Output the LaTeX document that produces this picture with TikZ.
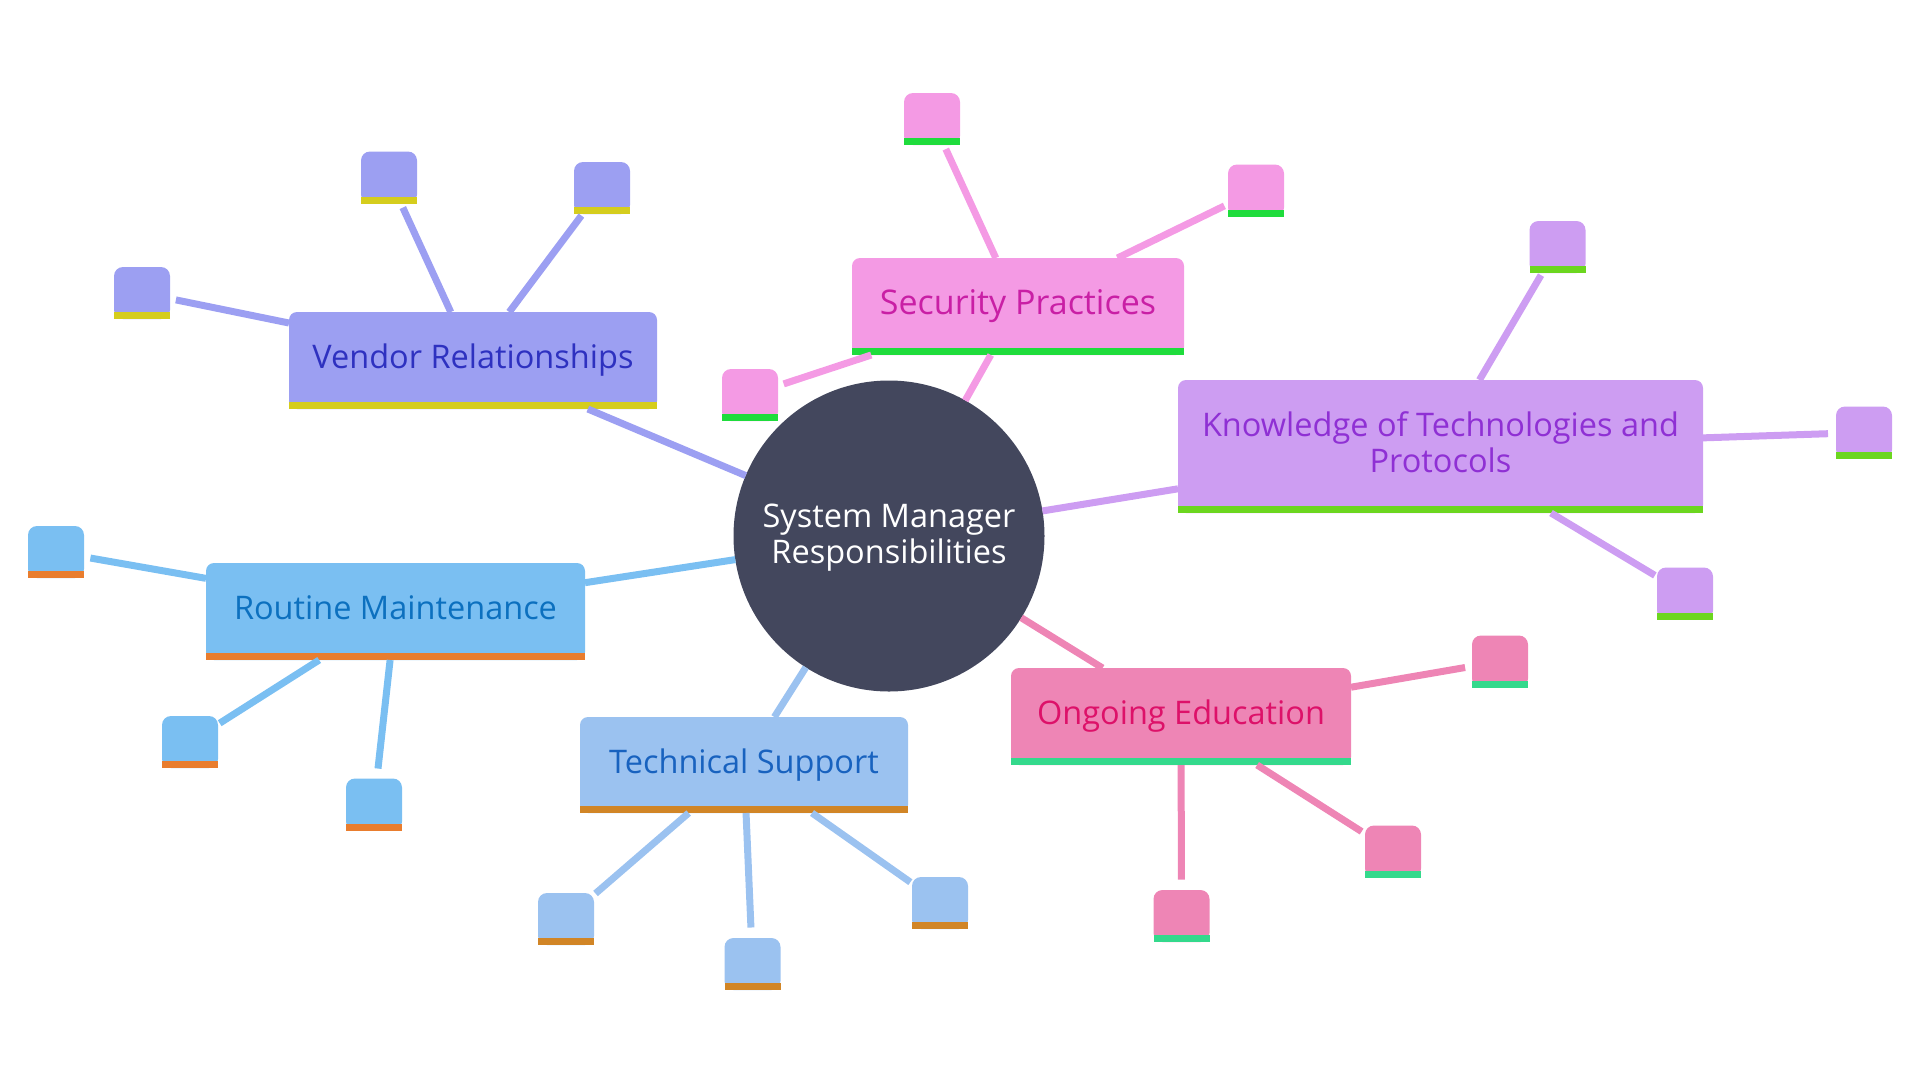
\documentclass[tikz,border=0pt]{standalone}
\usepackage{fontspec}
\setmainfont{Open Sans}
\usetikzlibrary{positioning}

\definecolor{corefill}{HTML}{43475D}
\definecolor{vendorfill}{HTML}{9C9FF2}
\definecolor{vendorbar}{HTML}{D5CD1D}
\definecolor{vendortext}{HTML}{2E31C0}
\definecolor{securityfill}{HTML}{F49AE4}
\definecolor{securitybar}{HTML}{1FDC3C}
\definecolor{securitytext}{HTML}{C91FA5}
\definecolor{knowfill}{HTML}{CD9DF2}
\definecolor{knowbar}{HTML}{6CD61F}
\definecolor{knowtext}{HTML}{8F30D4}
\definecolor{routinefill}{HTML}{7ABFF2}
\definecolor{routinebar}{HTML}{E97D2E}
\definecolor{routinetext}{HTML}{0C70BF}
\definecolor{techfill}{HTML}{9BC2F0}
\definecolor{techbar}{HTML}{D18526}
\definecolor{techtext}{HTML}{1862BF}
\definecolor{eduofill}{HTML}{EE85B5}
\definecolor{edubar}{HTML}{34D98C}
\definecolor{edutext}{HTML}{DD1169}

\tikzset{
    topic/.style={rectangle, rounded corners=8pt, inner sep=0pt, outer sep=0pt,
        align=center, font=\fontsize{32.5}{36}\selectfont},
    oneline/.style={text height=23pt, text depth=7pt},
    bit/.style={rectangle, rounded corners=9pt, inner sep=0pt, outer sep=0pt,
        minimum width=56pt, minimum height=52pt},
    vendorsec/.style={fill=vendorfill, text=vendortext},
    securitysec/.style={fill=securityfill, text=securitytext},
    knowsec/.style={fill=knowfill, text=knowtext},
    routinesec/.style={fill=routinefill, text=routinetext},
    techsec/.style={fill=techfill, text=techtext},
    edusec/.style={fill=eduofill, text=edutext}
}

\begin{document}
\begin{tikzpicture}[x=1pt, y=-1pt]
    \useasboundingbox (0,0) rectangle (1920,1080);

    \node (core) [circle, fill=corefill, text=white, minimum size=311pt, inner sep=0pt, outer sep=0pt,
        align=center, font=\fontsize{32.5}{36}\selectfont, text depth=5pt] at (889,536) {System Manager\\Responsibilities};

    % branches
    \node (vendor) [topic, oneline, vendorsec, minimum width=368pt, minimum height=97pt] at (473,360.5) {Vendor Relationships};
    \node (security) [topic, oneline, securitysec, font=\fontsize{34}{36}\selectfont, minimum width=332pt, minimum height=97pt] at (1018,306.5) {Security Practices};
    \node (know) [topic, knowsec, text depth=9.5pt, minimum width=525pt, minimum height=133pt] at (1440.5,446.5) {Knowledge of Technologies and\\Protocols};
    \node (routine) [topic, oneline, routinesec, minimum width=379pt, minimum height=97pt] at (395.5,611.5) {Routine Maintenance};
    \node (tech) [topic, oneline, techsec, minimum width=328pt, minimum height=96pt] at (744,765) {Technical Support};
    \node (edu) [topic, oneline, edusec, minimum width=340pt, minimum height=97pt] at (1181,716.5) {Ongoing Education};

    % leaves
    \node (v1) [bit, vendorsec] at (142,293) {};
    \node (v2) [bit, vendorsec] at (389,177.5) {};
    \node (v3) [bit, vendorsec] at (602,188) {};

    \node (s1) [bit, securitysec] at (750,395) {};
    \node (s2) [bit, securitysec] at (932,119) {};
    \node (s3) [bit, securitysec] at (1256,190.5) {};

    \node (k1) [bit, knowsec] at (1557.5,247) {};
    \node (k2) [bit, knowsec] at (1864,432.5) {};
    \node (k3) [bit, knowsec] at (1685,593.5) {};

    \node (r1) [bit, routinesec] at (56,552) {};
    \node (r2) [bit, routinesec] at (190,742) {};
    \node (r3) [bit, routinesec] at (374,804.5) {};

    \node (t1) [bit, techsec] at (566,919) {};
    \node (t2) [bit, techsec] at (752.5,964) {};
    \node (t3) [bit, techsec] at (940,903) {};

    \node (e1) [bit, edusec] at (1500,661.5) {};
    \node (e2) [bit, edusec] at (1393,851.5) {};
    \node (e3) [bit, edusec] at (1181.5,916) {};

    % bars along the bottom edges
    \foreach \n/\c in {vendor/vendorbar, v1/vendorbar, v2/vendorbar, v3/vendorbar,
                       security/securitybar, s1/securitybar, s2/securitybar, s3/securitybar,
                       know/knowbar, k1/knowbar, k2/knowbar, k3/knowbar,
                       routine/routinebar, r1/routinebar, r2/routinebar, r3/routinebar,
                       tech/techbar, t1/techbar, t2/techbar, t3/techbar,
                       edu/edubar, e1/edubar, e2/edubar, e3/edubar}
        \fill[\c] (\n.south west) rectangle ([yshift=7pt]\n.south east);

    \path[-, line width=7pt]
        (core) edge [color=vendorfill] (vendor)
        (core) edge [color=securityfill] (security)
        (core) edge [color=knowfill] (know)
        (core) edge [color=routinefill] (routine)
        (core) edge [color=techfill] (tech)
        (core) edge [color=eduofill] (edu);

    \path[-, line width=7pt]
        (vendor) edge [color=vendorfill, shorten >=6pt] (v1)
        (vendor) edge [color=vendorfill, shorten >=4.5pt] (v2)
        (vendor) edge [color=vendorfill, shorten >=2pt] (v3)
        (security) edge [color=securityfill, shorten >=6pt] (s1)
        (security) edge [color=securityfill, shorten >=4.5pt] (s2)
        (security) edge [color=securityfill, shorten >=4pt] (s3)
        (know) edge [color=knowfill, shorten >=2.5pt] (k1)
        (know) edge [color=knowfill, shorten >=8pt] (k2)
        (know) edge [color=knowfill, shorten >=2.5pt] (k3)
        (routine) edge [color=routinefill, shorten >=6.5pt] (r1)
        (routine) edge [color=routinefill, shorten >=2pt] (r2)
        (routine) edge [color=routinefill, shorten >=10pt] (r3)
        (tech) edge [color=techfill, shorten >=2pt] (t1)
        (tech) edge [color=techfill, shorten >=10.5pt] (t2)
        (tech) edge [color=techfill, shorten >=2pt] (t3)
        (edu) edge [color=eduofill, shorten >=7pt] (e1)
        (edu) edge [color=eduofill, shorten >=4pt] (e2)
        (edu) edge [color=eduofill, shorten >=10.5pt] (e3);
\end{tikzpicture}
\end{document}
